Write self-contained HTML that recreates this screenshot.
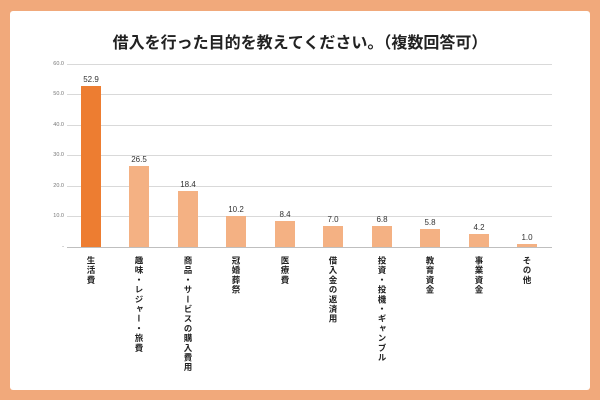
<!DOCTYPE html>
<html><head><meta charset="utf-8"><style>
body{margin:0;width:600px;height:400px;background:#f1a97b;position:relative;overflow:hidden;font-family:"Liberation Sans","Noto Sans CJK JP",sans-serif}
.box{position:absolute;left:10px;top:11px;width:580px;height:379px;background:#fff;border-radius:3px}
.title{position:absolute;left:0;width:600px;top:29px;text-align:center;font-size:16px;font-weight:bold;color:#222}
.g{position:absolute;left:67px;width:485px;height:1px;background:#d9d9d9}
.t{position:absolute;left:40px;width:24px;text-align:right;font-size:5.5px;color:#777}
.bar{position:absolute;width:20px;background:#f4b183}
.v{position:absolute;width:30px;text-align:center;font-size:8px;color:#333}
.c{position:absolute;top:256px;writing-mode:vertical-rl;font-size:8.5px;font-weight:bold;color:#222;letter-spacing:1.2px;width:12px}
</style></head><body>
<div class="box"></div>
<div class="title">借入を行った目的を教えてください。（複数回答可）</div>
<div class="g" style="top:64px"></div><div class="t" style="top:61px">60.0</div>
<div class="g" style="top:94px"></div><div class="t" style="top:91px">50.0</div>
<div class="g" style="top:125px"></div><div class="t" style="top:122px">40.0</div>
<div class="g" style="top:155px"></div><div class="t" style="top:152px">30.0</div>
<div class="g" style="top:186px"></div><div class="t" style="top:183px">20.0</div>
<div class="g" style="top:216px"></div><div class="t" style="top:213px">10.0</div>
<div class="g" style="top:247px;background:#bfbfbf"></div><div class="t" style="top:244px">-</div>
<div class="bar" style="left:81px;top:86px;height:161px;background:#ed7d31"></div><div class="v" style="left:76px;top:75px">52.9</div>
<div class="bar" style="left:129px;top:166px;height:81px"></div><div class="v" style="left:124px;top:155px">26.5</div>
<div class="bar" style="left:178px;top:191px;height:56px"></div><div class="v" style="left:173px;top:180px">18.4</div>
<div class="bar" style="left:226px;top:216px;height:31px"></div><div class="v" style="left:221px;top:205px">10.2</div>
<div class="bar" style="left:275px;top:221px;height:26px"></div><div class="v" style="left:270px;top:210px">8.4</div>
<div class="bar" style="left:323px;top:226px;height:21px"></div><div class="v" style="left:318px;top:215px">7.0</div>
<div class="bar" style="left:372px;top:226px;height:21px"></div><div class="v" style="left:367px;top:215px">6.8</div>
<div class="bar" style="left:420px;top:229px;height:18px"></div><div class="v" style="left:415px;top:218px">5.8</div>
<div class="bar" style="left:469px;top:234px;height:13px"></div><div class="v" style="left:464px;top:223px">4.2</div>
<div class="bar" style="left:517px;top:244px;height:3px"></div><div class="v" style="left:512px;top:233px">1.0</div>
<div class="c" style="left:85px">生活費</div>
<div class="c" style="left:133px">趣味・レジャー・旅費</div>
<div class="c" style="left:182px">商品・サービスの購入費用</div>
<div class="c" style="left:230px">冠婚葬祭</div>
<div class="c" style="left:279px">医療費</div>
<div class="c" style="left:327px">借入金の返済用</div>
<div class="c" style="left:376px">投資・投機・ギャンブル</div>
<div class="c" style="left:424px">教育資金</div>
<div class="c" style="left:473px">事業資金</div>
<div class="c" style="left:521px">その他</div>
</body></html>
